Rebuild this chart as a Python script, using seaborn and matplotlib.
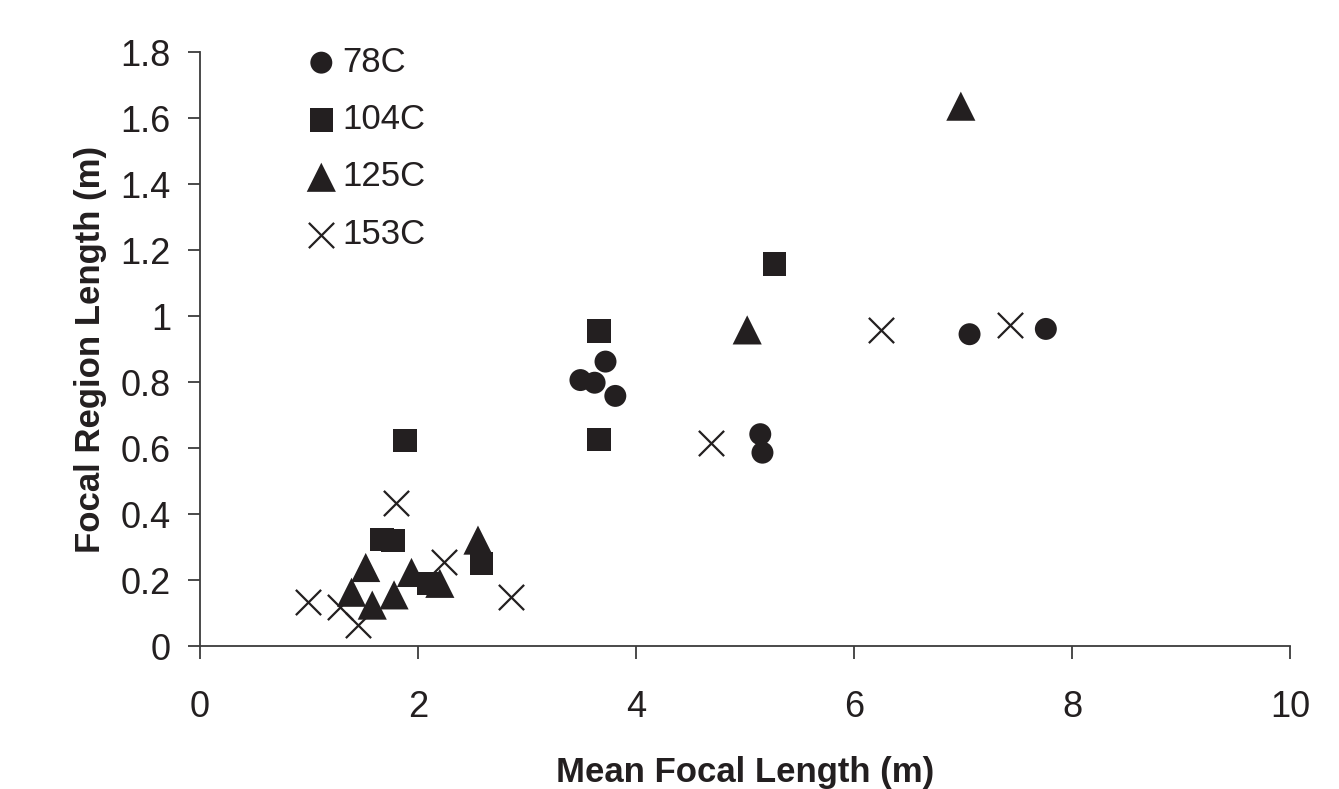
import matplotlib
matplotlib.use("Agg")
import matplotlib.pyplot as plt
import seaborn as sns
import pandas as pd
from matplotlib.ticker import FuncFormatter, MultipleLocator

# Data
x_78 = [3.49, 3.62, 3.72, 3.81, 5.14, 5.16, 7.06, 7.76]
y_78 = [0.806, 0.798, 0.862, 0.758, 0.642, 0.586, 0.945, 0.961]

x_104 = [1.88, 1.67, 1.77, 2.10, 2.58, 3.66, 3.66, 5.27]
y_104 = [0.624, 0.324, 0.319, 0.19, 0.25, 0.955, 0.626, 1.158]

x_125 = [1.39, 1.52, 1.58, 1.78, 1.94, 2.20, 2.55, 5.02, 6.98]
y_125 = [0.163, 0.238, 0.124, 0.155, 0.223, 0.19, 0.321, 0.958, 1.636]

x_153 = [0.99, 1.28, 1.45, 1.80, 2.24, 2.85, 4.69, 6.25, 7.43]
y_153 = [0.134, 0.119, 0.064, 0.432, 0.256, 0.149, 0.614, 0.958, 0.973]

series_names = ["78C", "104C", "125C", "153C"]

sns.set_style("ticks")
plt.rcParams["font.family"] = ["Liberation Sans", "DejaVu Sans"]

fig = plt.figure(figsize=(13.39, 7.89), dpi=100)
ax = fig.add_axes([0.1494, 0.1812, 0.8140, 0.7528])

ink = "#231f20"
axis_col = "#3c3c3c"
specs = [
    (x_78, y_78, "o", 250),
    (x_104, y_104, "s", 280),
    (x_125, y_125, "^", 440),
    (x_153, y_153, "x", 330),
]
for name, (xs, ys, m, s) in zip(series_names, specs):
    df = pd.DataFrame({"x": xs, "y": ys})
    if m == "x":
        sns.scatterplot(data=df, x="x", y="y", marker=m, s=s, color=ink,
                        linewidth=1.6, ax=ax, label=name, zorder=3)
    else:
        sns.scatterplot(data=df, x="x", y="y", marker=m, s=s, color=ink,
                        edgecolor="none", linewidth=0, ax=ax, label=name, zorder=3)

ax.set_xlim(0, 10)
ax.set_ylim(0, 1.8)
ax.xaxis.set_major_locator(MultipleLocator(2))
ax.yaxis.set_major_locator(MultipleLocator(0.2))
ax.yaxis.set_major_formatter(FuncFormatter(lambda v, p: f"{v:.1f}".rstrip("0").rstrip(".") if v else "0"))
ax.xaxis.set_major_formatter(FuncFormatter(lambda v, p: f"{v:.0f}"))

for sp in ["top", "right"]:
    ax.spines[sp].set_visible(False)
for sp in ["left", "bottom"]:
    ax.spines[sp].set_color(axis_col)
    ax.spines[sp].set_linewidth(1.3)

ax.tick_params(axis="both", colors=axis_col, labelcolor=ink, labelsize=26,
               length=9, width=1.3, direction="out")
ax.tick_params(axis="y", pad=12)
ax.tick_params(axis="x", pad=23)

ax.set_xlabel("Mean Focal Length (m)", fontsize=25, fontweight="bold", color=ink, labelpad=22)
ax.set_ylabel("Focal Region Length (m)", fontsize=25, fontweight="bold", color=ink, labelpad=10)

leg = ax.legend(loc="upper left", bbox_to_anchor=(0.081, 1.034), frameon=False,
                fontsize=25, handletextpad=0.05, labelspacing=0.7,
                handlelength=1.1, borderaxespad=0)
for t in leg.get_texts():
    t.set_color(ink)

fig.savefig("out.png", dpi=100)
